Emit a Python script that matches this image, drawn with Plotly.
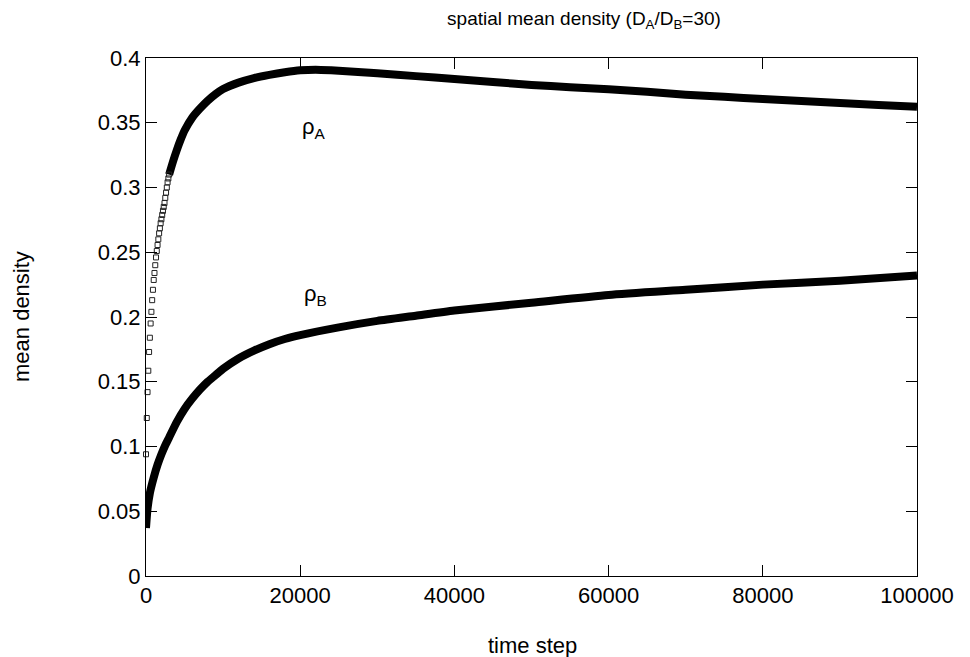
import plotly.graph_objects as go

# ---- data ----
# rho_A: early samples (every 100 steps) drawn as distinct open squares
a_early_t = [0, 100, 200, 300, 400, 500, 600, 700, 800, 900, 1000,
             1100, 1200, 1300, 1400, 1500, 1600, 1700, 1800, 1900, 2000,
             2100, 2200, 2300, 2400, 2500, 2600, 2700, 2800, 2900, 3000]
a_early_v = [0.094, 0.122, 0.142, 0.1585, 0.173, 0.184, 0.195, 0.204, 0.213, 0.221, 0.2286,
             0.234, 0.240, 0.246, 0.251, 0.2556, 0.260, 0.2646, 0.2685, 0.2724, 0.2755,
             0.2788, 0.282, 0.285, 0.288, 0.292, 0.296, 0.300, 0.304, 0.307, 0.310]

# rho_A: later part (dense squares merge into a solid band)
a_t = [3000, 3500, 4000, 4500, 5000, 6000, 7000, 8000, 9000, 10000,
       12000, 14000, 16000, 18000, 20000, 22000, 24000, 26000, 28000, 30000,
       35000, 40000, 45000, 50000, 55000, 60000, 65000, 70000, 75000, 80000,
       85000, 90000, 95000, 100000]
a_v = [0.310, 0.320, 0.329, 0.337, 0.344, 0.354, 0.361, 0.367, 0.372, 0.376,
       0.381, 0.3845, 0.387, 0.389, 0.3905, 0.391, 0.3905, 0.3898, 0.389, 0.3882,
       0.386, 0.3838, 0.3815, 0.3792, 0.3775, 0.3758, 0.374, 0.3717, 0.370, 0.3683,
       0.3668, 0.3652, 0.3638, 0.3624]

# rho_B
b_t = [0, 200, 500, 1000, 1500, 2000, 2500, 3000, 4000, 5000,
       6000, 7000, 8000, 9000, 10000, 12000, 14000, 16000, 18000, 20000,
       25000, 30000, 35000, 40000, 50000, 60000, 70000, 80000, 90000, 100000]
b_v = [0.037, 0.052, 0.064, 0.076, 0.086, 0.094, 0.101, 0.107, 0.119, 0.129,
       0.137, 0.144, 0.150, 0.155, 0.160, 0.168, 0.174, 0.179, 0.183, 0.186,
       0.192, 0.197, 0.201, 0.205, 0.211, 0.217, 0.221, 0.225, 0.228, 0.232]

x_ticks = [0, 20000, 40000, 60000, 80000, 100000]
y_ticks = [0, 0.05, 0.1, 0.15, 0.2, 0.25, 0.3, 0.35, 0.4]
y_tick_text = ["0", "0.05", "0.1", "0.15", "0.2", "0.25", "0.3", "0.35", "0.4"]

FONT = "Liberation Sans, Arial, Helvetica, sans-serif"

# page is drawn with an 8px body offset; figure covers the rest of the window
W, H = 962, 649
ML, MR, MT, MB = 138, 53, 50, 81
PW, PH = W - ML - MR, H - MT - MB

fig = go.Figure()

fig.add_trace(go.Scatter(
    x=a_t, y=a_v, mode="lines",
    line=dict(color="black", width=8, shape="spline", smoothing=0.6),
    showlegend=False, hoverinfo="skip"))
fig.add_trace(go.Scatter(
    x=a_early_t, y=a_early_v, mode="markers",
    marker=dict(symbol="square-open", size=5, color="#222222",
                line=dict(width=1, color="#222222")),
    cliponaxis=False, showlegend=False))
fig.add_trace(go.Scatter(
    x=b_t, y=b_v, mode="lines",
    line=dict(color="black", width=8, shape="spline", smoothing=0.6),
    showlegend=False))

fig.add_annotation(x=21750, y=0.346, text="ρ<sub>A</sub>", showarrow=False,
                   font=dict(size=22, color="black", family=FONT))
fig.add_annotation(x=22000, y=0.217, text="ρ<sub>B</sub>", showarrow=False,
                   font=dict(size=22, color="black", family=FONT))

# axis titles
fig.add_annotation(x=(524 - ML) / PW, y=(MT + PH - 637) / PH, xref="paper", yref="paper",
                   text="time step", showarrow=False, xanchor="center", yanchor="middle",
                   font=dict(size=22, color="black", family=FONT))
fig.add_annotation(x=(13 - ML) / PW, y=(MT + PH - 309) / PH, xref="paper", yref="paper",
                   text="mean density", showarrow=False, textangle=-90,
                   xanchor="center", yanchor="middle",
                   font=dict(size=22, color="black", family=FONT))

axis_common = dict(
    showline=True, linecolor="black", linewidth=1, mirror="allticks",
    ticks="inside", ticklen=11, tickwidth=1, tickcolor="black",
    showgrid=False, zeroline=False,
    tickfont=dict(size=22, color="black", family=FONT),
)

fig.update_layout(
    width=W, height=H,
    margin=dict(l=ML, r=MR, t=MT, b=MB),
    paper_bgcolor="white", plot_bgcolor="white",
    title=dict(text="spatial mean density (D<sub>A</sub>/D<sub>B</sub>=30)",
               x=(584 - 8) / W, xanchor="center", y=1 - 10 / H, yanchor="middle",
               font=dict(size=19, color="black", family=FONT)),
    xaxis=dict(range=[0, 100000], tickvals=x_ticks,
               ticktext=[str(v) for v in x_ticks], **axis_common),
    yaxis=dict(range=[0, 0.4], tickvals=y_ticks, ticktext=y_tick_text,
               **axis_common),
)

fig.write_html("out.html")
